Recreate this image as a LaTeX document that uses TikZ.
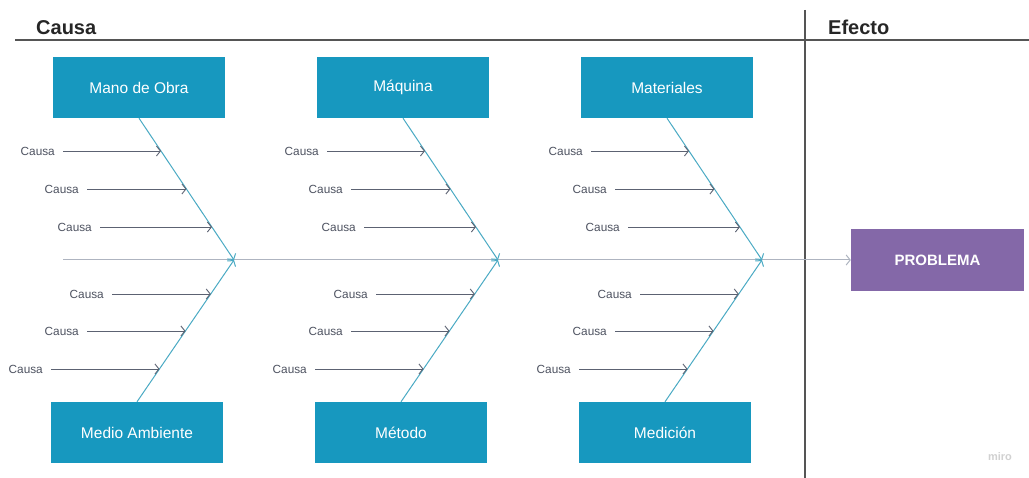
\documentclass[tikz,border=0pt]{standalone}
\usepackage{fontspec}
\setmainfont{Liberation Sans}
\usetikzlibrary{arrows.meta,calc}
\definecolor{boxteal}{HTML}{1798BF}
\definecolor{boxpurple}{HTML}{8468A8}
\definecolor{bonecol}{HTML}{4AAAC4}
\definecolor{causecol}{HTML}{5C6272}
\definecolor{spinecol}{HTML}{AEB4C0}
\definecolor{rulecol}{HTML}{555555}
\tikzset{
  catbox/.style={fill=boxteal, draw=none, minimum width=172pt, minimum height=61pt,
    inner sep=0pt, text=white, font=\fontsize{15.5}{17}\selectfont},
  effectbox/.style={fill=boxpurple, draw=none, minimum width=173pt, minimum height=62pt,
    inner sep=0pt, text=white, font=\bfseries\fontsize{15}{17}\selectfont},
  causelabel/.style={anchor=east, inner sep=0pt, text=causecol!85!black,
    font=\fontsize{11.8}{13}\selectfont},
  cause/.style={draw=causecol, line width=0.9pt, shorten <=8pt,
    -{Straight Barb[length=4pt,width=10pt,line width=0.9pt]}},
  bonetip/.style={draw=bonecol, line width=1pt,
    -{Straight Barb[length=4pt,width=10pt,line width=1pt]}},
  spine/.style={draw=spinecol, line width=1pt,
    -{Straight Barb[length=4pt,width=10pt,line width=1pt]}},
  header/.style={font=\bfseries\fontsize{20}{22}\selectfont, text=black!85, inner sep=0pt, anchor=base west},
  rule/.style={draw=rulecol, line width=1.1pt}
}
\begin{document}
\begin{tikzpicture}[x=1pt, y=-1pt]
\useasboundingbox (0,0) rectangle (1029,478);
\fill[white] (0,0) rectangle (1029,478);

% headings and dividing rules
\node[header] (causa) at (36,35) {Causa};
\node[header] (efecto) at (828,35) {Efecto};
\coordinate (hl) at (15,40);
\coordinate (hr) at (1029,40);
\coordinate (vt) at (805,10);
\coordinate (vb) at (805,478);
\draw[rule] (hl) -- (hr);
\draw[rule] (vt) -- (vb);

% effect box and spine
\node[effectbox] (problema) at (937.5,260) {PROBLEMA};
\coordinate (spinestart) at (63,260);
\draw[spine] (spinestart) -- (problema.west);

% three pairs of category bones
\foreach \i/\dx/\tl/\bl in {1/0/Mano de Obra/Medio Ambiente, 2/264/Máquina/Método, 3/528/Materiales/Medición}{
  \node[catbox] (top\i) at (139+\dx,87.5) {\tl};
  \node[catbox] (bot\i) at (137+\dx,432.5) {\bl};
  \coordinate (j\i) at (234+\dx,260);
  \draw[bonetip] (top\i.south) -- (j\i);
  \draw[bonetip] (bot\i.north) -- (j\i);
  % causes on the upper bone
  \foreach \k/\y/\xe/\t in {1/151/55/0.232, 2/189/79/0.5, 3/227/92/0.768}{
    \node[causelabel] (ct\i\k) at (\xe+\dx,\y) {Causa};
    \coordinate (tt\i\k) at ($(top\i.south)!\t!(j\i)$);
    \draw[cause] (ct\i\k.east) -- (ct\i\k.east -| tt\i\k);
  }
  % causes on the lower bone
  \foreach \k/\y/\xe/\t in {1/294/104/0.239, 2/331/79/0.5, 3/369/43/0.768}{
    \node[causelabel] (cb\i\k) at (\xe+\dx,\y) {Causa};
    \coordinate (tb\i\k) at ($(j\i)!\t!(bot\i.north)$);
    \draw[cause] (cb\i\k.east) -- (cb\i\k.east -| tb\i\k);
  }
}

% watermark
\node[text=black!18, font=\bfseries\fontsize{11}{12}\selectfont, inner sep=0pt] (miro) at (1000,457) {miro};
\end{tikzpicture}
\end{document}
